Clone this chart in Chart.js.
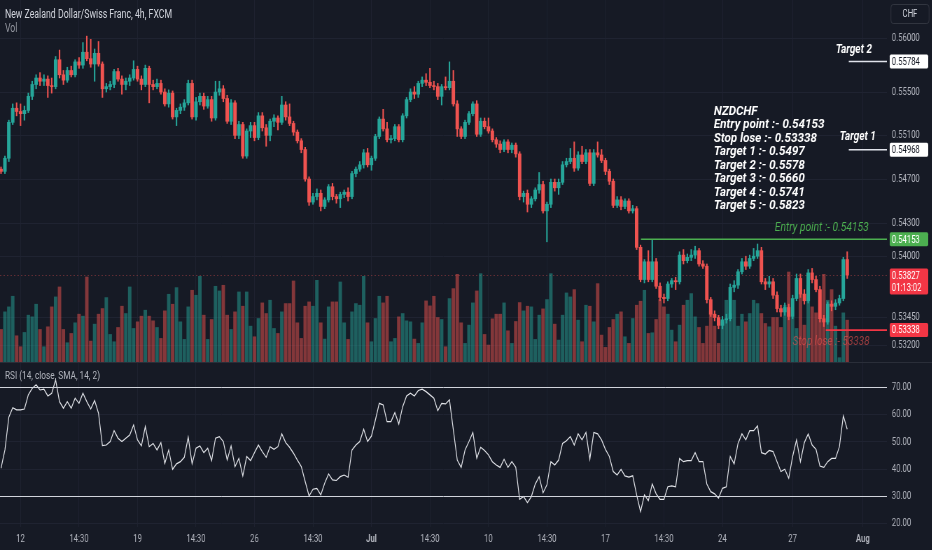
<!DOCTYPE html>
<html>
<head>
<meta charset="utf-8">
<script src="https://cdn.jsdelivr.net/npm/chart.js@4.4.0/dist/chart.umd.min.js"></script>
<style>
html,body{margin:0;padding:0;background:#161a25;overflow:hidden;width:932px;height:550px;}
#wrap{position:absolute;left:0;top:0;width:1331px;height:550px;transform:scale(0.7,1);transform-origin:0 0;font-family:Roboto,"Noto Sans",sans-serif;}
canvas{position:absolute;left:0;}
#main{top:0;}
#rsi{top:363px;}
.lbl{position:absolute;white-space:nowrap;}
</style>
</head>
<body>
<div id="wrap">
  <canvas id="main" width="1331" height="362"></canvas>
  <div style="position:absolute;left:0;top:362px;width:1331px;height:1px;background:#2a2e39"></div>
  <canvas id="rsi" width="1331" height="187"></canvas>
  <div class="lbl" style="left:7px;top:6px;font-size:12.5px;color:#d1d4dc">New Zealand Dollar/Swiss Franc, 4h, FXCM</div>
  <div class="lbl" style="left:7px;top:20px;font-size:12.5px;color:#9598a1">Vol</div>
  <div class="lbl" style="left:7px;top:368px;font-size:11.8px;color:#b2b5be">RSI (14, close, SMA, 14, 2)</div>
  <div class="lbl" style="left:1272px;top:4px;width:54px;height:18px;border:1px solid #363a45;border-radius:4px;font-size:11px;color:#d1d4dc;text-align:center;line-height:18px">CHF</div>
</div>
<script>
// NZDCHF 4h candles
const opens = [
  0.5479,0.5477,0.5489,0.5522,0.5535,0.5532,0.5530,0.5533,0.5546,0.5557,
  0.5563,0.5560,0.5562,0.5556,0.5555,0.5580,0.5566,0.5561,0.5570,0.5566,
  0.5578,0.5575,0.5587,0.5581,0.5576,0.5586,0.5576,0.5553,0.5555,0.5557,
  0.5569,0.5562,0.5557,0.5560,0.5563,0.5571,0.5562,0.5557,0.5572,0.5557,
  0.5555,0.5558,0.5550,0.5539,0.5549,0.5527,0.5533,0.5536,0.5540,0.5558,
  0.5527,0.5541,0.5546,0.5537,0.5543,0.5526,0.5550,0.5553,0.5544,0.5523,
  0.5540,0.5510,0.5520,0.5491,0.5514,0.5519,0.5508,0.5528,0.5517,0.5510,
  0.5523,0.5526,0.5522,0.5538,0.5527,0.5521,0.5513,0.5505,0.5497,0.5470,
  0.5449,0.5454,0.5457,0.5445,0.5451,0.5463,0.5454,0.5452,0.5456,0.5458,
  0.5454,0.5475,0.5479,0.5483,0.5494,0.5483,0.5489,0.5509,0.5525,0.5516,
  0.5506,0.5507,0.5518,0.5506,0.5528,0.5543,0.5550,0.5548,0.5558,0.5561,
  0.5559,0.5556,0.5555,0.5546,0.5555,0.5554,0.5560,0.5539,0.5516,0.5509,
  0.5522,0.5530,0.5539,0.5511,0.5523,0.5518,0.5514,0.5506,0.5502,0.5497,
  0.5504,0.5497,0.5501,0.5493,0.5454,0.5457,0.5447,0.5452,0.5460,0.5465,
  0.5441,0.5447,0.5467,0.5462,0.5467,0.5483,0.5486,0.5489,0.5480,0.5492,
  0.5486,0.5494,0.5466,0.5494,0.5492,0.5487,0.5477,0.5468,0.5446,0.5451,
  0.5445,0.5450,0.5441,0.5443,0.5408,0.5379,0.5395,0.5379,0.5395,0.5373,
  0.5363,0.5362,0.5375,0.5378,0.5377,0.5401,0.5396,0.5399,0.5401,0.5405,
  0.5393,0.5391,0.5361,0.5348,0.5345,0.5338,0.5343,0.5344,0.5372,0.5374,
  0.5386,0.5395,0.5391,0.5398,0.5400,0.5405,0.5377,0.5375,0.5377,0.5365,
  0.5353,0.5350,0.5354,0.5346,0.5362,0.5380,0.5366,0.5360,0.5385,0.5379,
  0.5370,0.5344,0.5341,0.5357,0.5355,0.5358,0.5362,0.5397
];
const highs = [
  0.5481,0.5491,0.5524,0.5539,0.5540,0.5539,0.5537,0.5549,0.5560,0.5566,
  0.5568,0.5566,0.5565,0.5563,0.5583,0.5589,0.5570,0.5573,0.5574,0.5580,
  0.5582,0.5596,0.5602,0.5599,0.5590,0.5597,0.5578,0.5558,0.5560,0.5571,
  0.5572,0.5565,0.5563,0.5566,0.5579,0.5574,0.5565,0.5575,0.5574,0.5561,
  0.5562,0.5561,0.5553,0.5552,0.5551,0.5535,0.5539,0.5543,0.5561,0.5561,
  0.5545,0.5549,0.5549,0.5546,0.5546,0.5560,0.5560,0.5556,0.5547,0.5543,
  0.5542,0.5523,0.5522,0.5516,0.5522,0.5522,0.5531,0.5531,0.5520,0.5525,
  0.5529,0.5528,0.5546,0.5541,0.5539,0.5523,0.5515,0.5507,0.5499,0.5472,
  0.5457,0.5461,0.5460,0.5453,0.5465,0.5466,0.5456,0.5458,0.5460,0.5462,
  0.5477,0.5481,0.5486,0.5497,0.5498,0.5491,0.5511,0.5527,0.5534,0.5522,
  0.5510,0.5520,0.5520,0.5530,0.5545,0.5553,0.5555,0.5560,0.5564,0.5567,
  0.5572,0.5560,0.5558,0.5557,0.5564,0.5578,0.5570,0.5542,0.5518,0.5524,
  0.5532,0.5541,0.5542,0.5526,0.5526,0.5526,0.5516,0.5508,0.5505,0.5506,
  0.5506,0.5503,0.5503,0.5495,0.5459,0.5460,0.5454,0.5462,0.5476,0.5468,
  0.5449,0.5470,0.5470,0.5470,0.5486,0.5489,0.5498,0.5504,0.5495,0.5500,
  0.5497,0.5497,0.5497,0.5504,0.5497,0.5489,0.5479,0.5470,0.5454,0.5454,
  0.5452,0.5452,0.5446,0.5445,0.5410,0.5397,0.5405,0.5415,0.5398,0.5376,
  0.5366,0.5377,0.5380,0.5381,0.5404,0.5406,0.5402,0.5406,0.5409,0.5407,
  0.5396,0.5393,0.5363,0.5351,0.5347,0.5346,0.5348,0.5375,0.5378,0.5388,
  0.5398,0.5400,0.5401,0.5407,0.5411,0.5408,0.5380,0.5382,0.5380,0.5368,
  0.5356,0.5358,0.5357,0.5365,0.5384,0.5384,0.5370,0.5388,0.5389,0.5382,
  0.5373,0.5347,0.5359,0.5360,0.5361,0.5365,0.5399,0.5404
];
const lows = [
  0.5475,0.5475,0.5486,0.5520,0.5528,0.5519,0.5524,0.5531,0.5543,0.5553,
  0.5556,0.5556,0.5545,0.5549,0.5553,0.5563,0.5557,0.5559,0.5564,0.5564,
  0.5572,0.5572,0.5579,0.5573,0.5560,0.5574,0.5545,0.5550,0.5552,0.5554,
  0.5560,0.5548,0.5552,0.5556,0.5561,0.5560,0.5552,0.5555,0.5540,0.5552,
  0.5553,0.5548,0.5537,0.5536,0.5525,0.5519,0.5530,0.5533,0.5538,0.5525,
  0.5524,0.5538,0.5534,0.5535,0.5523,0.5524,0.5547,0.5541,0.5521,0.5520,
  0.5507,0.5507,0.5489,0.5489,0.5508,0.5505,0.5506,0.5514,0.5500,0.5505,
  0.5518,0.5515,0.5520,0.5524,0.5519,0.5510,0.5503,0.5494,0.5468,0.5446,
  0.5447,0.5451,0.5441,0.5443,0.5449,0.5451,0.5448,0.5444,0.5453,0.5450,
  0.5452,0.5472,0.5477,0.5480,0.5481,0.5478,0.5487,0.5507,0.5514,0.5504,
  0.5503,0.5505,0.5504,0.5504,0.5526,0.5541,0.5544,0.5545,0.5555,0.5556,
  0.5554,0.5552,0.5543,0.5538,0.5552,0.5552,0.5537,0.5509,0.5507,0.5507,
  0.5520,0.5528,0.5509,0.5509,0.5516,0.5512,0.5504,0.5499,0.5494,0.5495,
  0.5494,0.5494,0.5490,0.5451,0.5449,0.5440,0.5444,0.5450,0.5457,0.5439,
  0.5413,0.5444,0.5459,0.5456,0.5465,0.5481,0.5484,0.5477,0.5478,0.5484,
  0.5484,0.5464,0.5464,0.5490,0.5485,0.5474,0.5465,0.5444,0.5444,0.5442,
  0.5443,0.5439,0.5439,0.5406,0.5377,0.5376,0.5377,0.5377,0.5371,0.5360,
  0.5358,0.5360,0.5372,0.5370,0.5375,0.5393,0.5394,0.5396,0.5398,0.5391,
  0.5389,0.5358,0.5346,0.5342,0.5335,0.5335,0.5340,0.5342,0.5368,0.5371,
  0.5384,0.5388,0.5389,0.5396,0.5398,0.5375,0.5370,0.5372,0.5362,0.5350,
  0.5346,0.5347,0.5343,0.5344,0.5360,0.5363,0.5357,0.5358,0.5376,0.5368,
  0.5341,0.5337,0.5339,0.5351,0.5352,0.5356,0.5360,0.5380
];
const closes = [
  0.5477,0.5489,0.5522,0.5535,0.5532,0.5530,0.5533,0.5546,0.5557,0.5563,
  0.5560,0.5562,0.5556,0.5555,0.5580,0.5566,0.5561,0.5570,0.5566,0.5578,
  0.5575,0.5587,0.5581,0.5576,0.5586,0.5576,0.5553,0.5555,0.5557,0.5569,
  0.5562,0.5557,0.5560,0.5563,0.5571,0.5562,0.5557,0.5572,0.5557,0.5555,
  0.5558,0.5550,0.5539,0.5549,0.5527,0.5533,0.5536,0.5540,0.5558,0.5527,
  0.5541,0.5546,0.5537,0.5543,0.5526,0.5550,0.5553,0.5544,0.5523,0.5540,
  0.5510,0.5520,0.5491,0.5514,0.5519,0.5508,0.5528,0.5517,0.5510,0.5523,
  0.5526,0.5522,0.5538,0.5527,0.5521,0.5513,0.5505,0.5497,0.5470,0.5449,
  0.5454,0.5457,0.5445,0.5451,0.5463,0.5454,0.5452,0.5456,0.5458,0.5454,
  0.5475,0.5479,0.5483,0.5494,0.5483,0.5489,0.5509,0.5525,0.5516,0.5506,
  0.5507,0.5518,0.5506,0.5528,0.5543,0.5550,0.5548,0.5558,0.5561,0.5559,
  0.5556,0.5555,0.5546,0.5555,0.5554,0.5560,0.5539,0.5516,0.5509,0.5522,
  0.5530,0.5539,0.5511,0.5523,0.5518,0.5514,0.5506,0.5502,0.5497,0.5504,
  0.5497,0.5501,0.5493,0.5454,0.5457,0.5447,0.5452,0.5460,0.5465,0.5441,
  0.5447,0.5467,0.5462,0.5467,0.5483,0.5486,0.5489,0.5480,0.5492,0.5486,
  0.5494,0.5466,0.5494,0.5492,0.5487,0.5477,0.5468,0.5446,0.5451,0.5445,
  0.5450,0.5441,0.5443,0.5408,0.5379,0.5395,0.5379,0.5395,0.5373,0.5363,
  0.5362,0.5375,0.5378,0.5377,0.5401,0.5396,0.5399,0.5401,0.5405,0.5393,
  0.5391,0.5361,0.5348,0.5345,0.5338,0.5343,0.5344,0.5372,0.5374,0.5386,
  0.5395,0.5391,0.5398,0.5400,0.5405,0.5377,0.5375,0.5377,0.5365,0.5353,
  0.5350,0.5354,0.5346,0.5362,0.5380,0.5366,0.5360,0.5385,0.5379,0.5370,
  0.5344,0.5341,0.5357,0.5355,0.5358,0.5362,0.5397,0.5383
];
const volumes = [
  98,151,166,198,79,46,89,141,136,174,
  98,46,106,166,196,226,98,58,86,118,
  144,138,256,63,114,144,161,194,83,61,
  104,168,146,226,101,121,138,156,138,124,
  104,71,154,204,174,224,121,68,166,216,
  201,258,141,68,128,228,214,231,141,98,
  151,211,168,211,108,76,131,178,146,186,
  101,86,151,176,176,244,118,71,168,181,
  168,246,118,69,166,181,181,241,118,68,
  151,176,171,258,118,61,131,198,178,198,
  61,71,136,146,124,121,69,56,118,184,
  169,198,134,128,46,191,221,264,118,56,
  111,178,214,266,83,51,130,144,144,178,
  94,56,122,179,154,168,166,68,141,160,
  188,266,114,66,141,208,196,218,126,61,
  171,168,121,236,81,44,104,128,144,151,
  76,56,131,171,183,216,86,88,128,188,
  166,144,96,61,111,171,186,206,136,104,
  56,108,154,108,56,121,186,146,186,108,
  144,121,146,186,176,146,116,106,134,134,
  104,171,271,136,101,241,111,231,166,148,
  216,264,186,218,108,13,148,126
];
const rsiValues = [
  40.3,47,59,62.5,61.7,61.7,62,67.2,69.6,70.9,
  69,69.3,66.8,67.8,72.7,64.7,62.3,64.7,62.3,66,
  64.1,67.8,64.7,62,65.1,60.5,48.6,48.8,50.1,54.1,
  51.3,50.1,51.3,52.5,56.2,50.7,48.5,55.6,48.2,49.4,
  47,49.7,42.1,47,39.9,41.9,42.7,44.3,51.7,41.9,
  47.6,48.5,46,47.6,43.1,51.3,51.9,50.1,43.3,48.5,
  40.9,43.9,37.5,44.6,43.1,46,48.8,46.4,44.3,48.2,
  47.2,48.2,52.9,49.7,48,45.8,43.3,40.9,35.4,30.1,
  32.6,32.9,30.5,34.8,38.2,36,35.8,37.2,37.8,37,
  47,48.8,50.1,54.6,50.1,52.1,58,64.1,63.5,57.4,
  57.4,60.7,56.5,62.9,66.8,67.8,66.8,68.8,69.3,68.4,
  67.2,66,61.4,64.1,63.9,65.4,54.3,43.3,40.6,47,
  50.1,53.4,44,48,46.8,45.2,42.7,41.5,40.6,43.6,
  40.6,42.7,40.6,28.9,29.9,27.7,29.9,34.5,37.2,31.3,
  34.2,42.7,41.5,43.3,49.4,50.4,51.9,48.8,52.9,50.7,
  53.4,43.6,53.4,52.9,50.7,47.2,44.6,39.1,37.8,39.9,
  37.5,37,37.5,30.5,24.4,30.5,28.4,34.5,30.9,28.9,
  28.9,33.5,33.8,33.5,43.9,42.7,43.1,43.1,46,42.7,
  42.7,34.5,31.7,30.9,29.3,32.9,33.5,44.6,41.9,49.4,
  52.9,50.7,54.1,54.1,55.8,46,45.5,46.8,46.4,42.7,
  39.1,39.9,36.6,44.6,50.7,42.7,49.7,52.9,48.8,47.2,
  41.1,40.6,42.7,43.9,43.9,48.2,59.5,54.6
];

const priceTicks = [0.56, 0.555, 0.551, 0.547, 0.543, 0.54, 0.5345, 0.532];
const rsiTicks = [70, 60, 50, 40, 30, 20];
const rsiBands = [70, 30];
const timeTickIdx = [5, 20, 35, 50, 65, 80, 95, 110, 125, 140, 155, 170, 185, 203, 221];
const timeTickLabels = ['12','14:30','19','14:30','26','14:30','Jul','14:30','10','14:30','17','14:30','24','27','Aug'];

const entryPrice = 0.54153;
const stopPrice = 0.53338;
const target1 = 0.54968;
const target2 = 0.55784;
const lastPrice = 0.53827;
const countdown = '01:13:02';
const noteLines = [
  'NZDCHF',
  'Entry point :- 0.54153',
  'Stop lose :- 0.53338',
  'Target 1 :- 0.5497',
  'Target 2 :- 0.5578',
  'Target 3 :- 0.5660',
  'Target 4 :- 0.5741',
  'Target 5 :- 0.5823'
];

const UP = '#26a69a', DOWN = '#ef5350';
const UPV = 'rgba(38,166,154,0.5)', DOWNV = 'rgba(239,83,80,0.5)';
const GRID = '#1f2331';
const TXT = '#b2b5be';
const AXIS_W = 64;
const xMin = -0.26, xMax = 227.18;

Chart.defaults.font.family = 'Roboto, "Noto Sans", sans-serif';

const isUp = i => closes[i] >= opens[i];
const candleColor = c => isUp(c.dataIndex) ? UP : DOWN;
const volColor = c => isUp(c.dataIndex) ? UPV : DOWNV;

const wickData = closes.map((c, i) => ({x: i, y: [lows[i], highs[i]]}));
const bodyData = closes.map((c, i) => ({x: i, y: [opens[i], c]}));
const volData = volumes.map((v, i) => ({x: i, y: v}));
const rsiData = rsiValues.map((v, i) => ({x: i, y: v}));

// no label padding around the plot: panes must line up with the picture
const noPad = s => { s.paddingTop = 0; s.paddingBottom = 0; s.paddingLeft = 0; s.paddingRight = 0; };

function xAxis(showLabels) {
  return {
    type: 'linear', min: xMin, max: xMax, offset: false,
    afterBuildTicks: s => { s.ticks = timeTickIdx.map(v => ({value: v})); },
    ticks: {
      display: showLabels, color: TXT, maxRotation: 0, autoSkip: false, padding: 6,
      font: c => ({size: 11, weight: /[A-Z]/.test(timeTickLabels[c.index] || '') ? 'bold' : 'normal'}),
      callback: (v, i) => timeTickLabels[i]
    },
    grid: {color: GRID, drawTicks: false, offset: false},
    border: {display: false},
    afterFit: s => { s.height = showLabels ? 23 : 0; noPad(s); }
  };
}

function yAxis(extra) {
  return Object.assign({
    position: 'right',
    grid: {color: GRID, drawTicks: false},
    border: {display: false},
    afterFit: s => { s.width = AXIS_W; noPad(s); }
  }, extra);
}

// text widened a little to match the wider lettering of the original
function wideText(ctx, t, x, y, k, align) {
  ctx.save();
  ctx.translate(x, y);
  ctx.scale(k, 1);
  ctx.textAlign = align;
  ctx.fillText(t, 0, 0);
  ctx.restore();
}

function tag(ctx, a, y, text, bg, fg, text2) {
  const h = text2 ? 26 : 14;
  ctx.fillStyle = bg;
  ctx.beginPath();
  ctx.roundRect(a.right + 4, y - 7, 55, h, 2);
  ctx.fill();
  ctx.fillStyle = fg;
  ctx.font = '11px Roboto';
  ctx.textAlign = 'left';
  ctx.textBaseline = 'middle';
  ctx.fillText(text, a.right + 7, y + 0.5);
  if (text2) ctx.fillText(text2, a.right + 7, y + 12.5);
}

const notes = {
  id: 'notes',
  beforeDatasetsDraw(chart) {
    const {ctx, chartArea: a, scales: {y: ys}} = chart;
    const yL = Math.round(ys.getPixelForValue(lastPrice)) + 0.5;
    ctx.save();
    ctx.strokeStyle = 'rgba(239,83,80,0.35)';
    ctx.setLineDash([2, 3]);
    ctx.lineWidth = 1;
    ctx.beginPath(); ctx.moveTo(a.left, yL); ctx.lineTo(a.right, yL); ctx.stroke();
    ctx.restore();
  },
  afterDraw(chart) {
    const {ctx, chartArea: a, scales: {x: xs, y: ys}} = chart;
    const yE = ys.getPixelForValue(entryPrice);
    const yS = ys.getPixelForValue(stopPrice);
    const yT1 = ys.getPixelForValue(target1);
    const yT2 = ys.getPixelForValue(target2);
    const yL = ys.getPixelForValue(lastPrice);
    ctx.save();
    const seg = (x0, y, col) => {
      ctx.strokeStyle = col; ctx.lineWidth = 1.6;
      ctx.beginPath(); ctx.moveTo(x0, y); ctx.lineTo(a.right, y); ctx.stroke();
    };
    seg(xs.getPixelForValue(164.1), yE, '#4caf50');
    seg(xs.getPixelForValue(211.5), yS, '#f23645');
    seg(xs.getPixelForValue(217.4), yT1, '#e0e3eb');
    seg(xs.getPixelForValue(217.4), yT2, '#e0e3eb');

    ctx.textBaseline = 'middle';
    ctx.font = 'italic bold 12.5px Roboto';
    ctx.fillStyle = '#ffffff';
    wideText(ctx, 'Target 2', xs.getPixelForValue(218.7), yT2 - 11.5, 1.15, 'center');
    wideText(ctx, 'Target 1', xs.getPixelForValue(219.7), yT1 - 13, 1.15, 'center');

    const nx = xs.getPixelForValue(182.8);
    noteLines.forEach((t, k) => wideText(ctx, t, nx, 111.7 + k * 13.47, 1.33, 'left'));

    ctx.font = 'italic 12px Roboto';
    ctx.fillStyle = '#4caf50';
    wideText(ctx, 'Entry point :- 0.54153', xs.getPixelForValue(222.5), yE - 11.5, 1.22, 'right');
    ctx.fillStyle = 'rgba(239,83,80,0.6)';
    wideText(ctx, 'Stop lose :- 53338', xs.getPixelForValue(203), yS + 11.5, 1.18, 'left');

    tag(ctx, a, yT2, target2.toFixed(5), '#ffffff', '#131722');
    tag(ctx, a, yT1, target1.toFixed(5), '#ffffff', '#131722');
    tag(ctx, a, yE, entryPrice.toFixed(5), '#4caf50', '#ffffff');
    tag(ctx, a, yL, lastPrice.toFixed(5), '#f23645', '#ffffff', countdown);
    tag(ctx, a, yS, stopPrice.toFixed(5), '#f23645', '#ffffff');
    ctx.restore();
  }
};

new Chart(document.getElementById('main'), {
  type: 'bar',
  data: {
    datasets: [
      {label: 'Vol', data: volData, yAxisID: 'vol', backgroundColor: volColor,
       barThickness: 4.3, grouped: false, order: 3},
      {label: 'wick', data: wickData, yAxisID: 'y', backgroundColor: candleColor,
       barThickness: 1.45, grouped: false, order: 2},
      {label: 'body', data: bodyData, yAxisID: 'y', backgroundColor: candleColor,
       barThickness: 4.3, grouped: false, order: 1, minBarLength: 1}
    ]
  },
  options: {
    responsive: false,
    animation: false,
    layout: {padding: 0, autoPadding: false},
    plugins: {legend: {display: false}, tooltip: {enabled: false}},
    scales: {
      x: xAxis(false),
      y: yAxis({
        type: 'logarithmic', min: 0.53055, max: 0.56359,
        afterBuildTicks: s => { s.ticks = priceTicks.map(v => ({value: v})); },
        ticks: {color: TXT, font: {size: 11}, padding: 7, callback: v => Number(v).toFixed(5)}
      }),
      vol: {type: 'linear', display: false, min: 0, max: 1090}
    }
  },
  plugins: [notes]
});

const bands = {
  id: 'bands',
  afterDatasetsDraw(chart) {
    const {ctx, chartArea: a, scales: {y: ys}} = chart;
    ctx.save();
    ctx.strokeStyle = '#d1d4dc';
    ctx.lineWidth = 1;
    rsiBands.forEach(v => {
      const y = Math.round(ys.getPixelForValue(v)) + 0.5;
      ctx.beginPath(); ctx.moveTo(a.left, y); ctx.lineTo(a.right, y); ctx.stroke();
    });
    ctx.restore();
  }
};

new Chart(document.getElementById('rsi'), {
  type: 'line',
  data: {
    datasets: [{data: rsiData, borderColor: '#e3e5ea', borderWidth: 1.2, pointRadius: 0, tension: 0}]
  },
  options: {
    responsive: false,
    animation: false,
    layout: {padding: 0, autoPadding: false},
    plugins: {legend: {display: false}, tooltip: {enabled: false}},
    scales: {
      x: xAxis(true),
      y: yAxis({
        min: 18.73, max: 78.9,
        afterBuildTicks: s => { s.ticks = rsiTicks.map(v => ({value: v})); },
        ticks: {color: TXT, font: {size: 11}, padding: 7, callback: v => Number(v).toFixed(2)}
      })
    }
  },
  plugins: [bands]
});
</script>
</body>
</html>
